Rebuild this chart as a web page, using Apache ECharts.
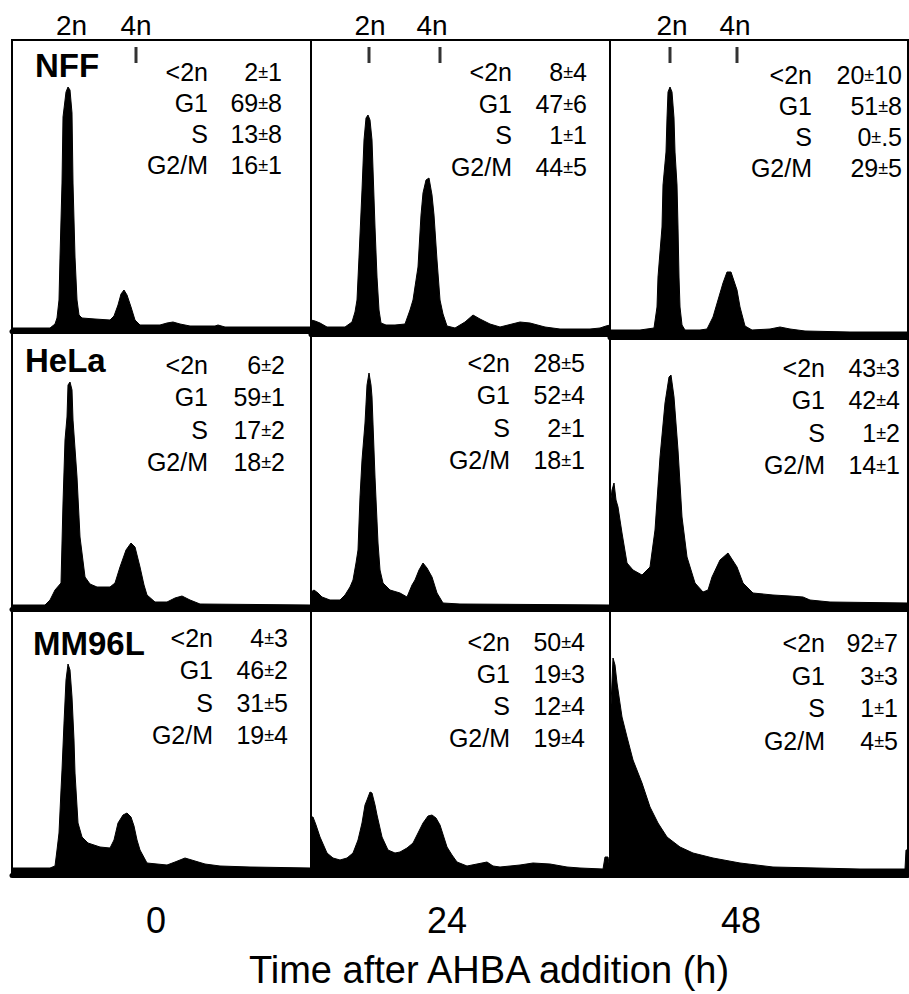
<!DOCTYPE html>
<html>
<head>
<meta charset="utf-8">
<script src="https://cdn.jsdelivr.net/npm/echarts@6/dist/echarts.min.js"></script>
<style>
  html, body { margin: 0; padding: 0; background: #fff; }
  #chart { width: 909px; height: 994px; }
</style>
</head>
<body>
<div id="chart"></div>
<script>
// cell lines (rows) and hours after AHBA (columns)
const CELL_LINES = ['NFF', 'HeLa', 'MM96L']
const HOURS = ['0', '24', '48']
const PHASES = ['<2n', 'G1', 'S', 'G2/M']
const PLOIDY = ['2n', '4n']

// % of cells per phase, mean ± sd
const NFF_STATS = [['2±1', '69±8', '13±8', '16±1'], ['8±4', '47±6', '1±1', '44±5'], ['20±10', '51±8', '0±.5', '29±5']]
const HELA_STATS = [['6±2', '59±1', '17±2', '18±2'], ['28±5', '52±4', '2±1', '18±1'], ['43±3', '42±4', '1±2', '14±1']]
const MM96L_STATS = [['4±3', '46±2', '31±5', '19±4'], ['50±4', '19±3', '12±4', '19±4'], ['92±7', '3±3', '1±1', '4±5']]

// 2n / 4n marker channels per time point (label channel may sit a little off the tick)
const PLOIDY_CHANNELS = [[59, 124], [58, 129], [60, 127]]
const PLOIDY_LABEL_CHANNELS = [[59.5, 124], [59, 121], [62, 125]]

// DNA histograms: [channel, events]
const NFF_0H = [[0,3],[38,3],[43,7],[45,13],[47,31],[48,74],[50,148],[51,214],[54,239],[56,244],[58,241],[60,218],[61,148],[63,74],[65,31],[67,16],[70,13],[83,12],[98,11],[102,15],[106,26],[109,37],[112,41],[115,36],[119,24],[123,11],[128,6],[148,6],[155,8],[161,9],[168,7],[178,5],[203,5],[206,6],[213,4],[299,4]]
const NFF_24H = [[0,14],[4,13],[9,11],[16,7],[34,7],[41,12],[44,22],[46,34],[48,77],[51,144],[53,194],[55,216],[57,219],[59,214],[61,194],[64,107],[66,57],[68,24],[70,11],[75,9],[84,9],[94,10],[99,24],[102,34],[107,67],[110,119],[112,141],[115,154],[118,156],[121,139],[123,119],[126,74],[129,34],[132,20],[136,8],[144,6],[154,12],[162,19],[169,15],[179,10],[189,7],[201,10],[209,12],[219,11],[234,7],[249,5],[279,5],[289,6],[295,8],[299,9]]
const NFF_48H = [[0,7],[30,7],[44,9],[47,30],[48,60],[52,110],[53,152],[56,185],[57,219],[58,245],[60,250],[62,245],[64,219],[65,185],[67,152],[68,110],[69,60],[70,30],[72,12],[75,7],[90,7],[97,8],[103,20],[108,37],[113,54],[117,65],[121,65],[127,47],[130,30],[135,11],[142,7],[160,8],[170,10],[180,8],[195,6],[240,5],[298,5]]
const HELA_0H = [[0,4],[33,4],[38,9],[43,19],[49,26],[51,106],[53,169],[55,192],[56,224],[58,227],[60,219],[61,189],[65,132],[68,72],[73,32],[78,25],[85,22],[98,22],[103,26],[108,42],[114,59],[119,66],[123,62],[128,42],[132,24],[135,14],[143,7],[155,7],[163,11],[170,13],[178,9],[188,5],[299,4]]
const HELA_24H = [[0,17],[3,19],[7,16],[11,12],[19,9],[29,9],[34,14],[39,22],[42,29],[45,46],[47,59],[49,112],[51,149],[54,186],[56,224],[58,236],[60,224],[61,212],[64,132],[67,66],[69,39],[72,26],[79,19],[89,16],[96,12],[101,24],[104,29],[108,39],[112,46],[116,41],[121,32],[126,16],[132,6],[149,5],[299,4]]
const HELA_48H = [[0,102],[2,119],[4,126],[6,109],[8,102],[12,76],[17,46],[23,39],[32,34],[40,42],[45,79],[50,152],[55,206],[59,232],[61,234],[64,212],[68,159],[72,92],[77,52],[85,26],[93,17],[98,19],[102,32],[110,49],[118,56],[127,42],[133,26],[143,16],[163,14],[180,13],[193,12],[200,9],[220,7],[298,6]]
const MM96L_0H = [[0,7],[38,7],[43,9],[45,25],[47,42],[49,85],[50,105],[52,152],[54,195],[56,211],[58,205],[60,178],[62,135],[63,102],[66,52],[70,38],[76,32],[88,28],[98,27],[102,35],[106,52],[111,60],[115,62],[119,58],[122,49],[125,35],[128,25],[135,12],[155,10],[163,13],[173,17],[183,14],[193,11],[208,9],[238,8],[299,7]]
const MM96L_24H = [[0,58],[2,58],[5,50],[9,38],[16,22],[22,17],[29,15],[36,17],[42,22],[47,35],[51,52],[54,70],[56,75],[59,83],[61,82],[64,70],[66,60],[71,38],[77,25],[84,22],[89,23],[96,27],[102,32],[107,42],[112,52],[117,59],[121,60],[125,57],[129,50],[136,28],[141,20],[146,13],[156,9],[166,11],[176,13],[182,9],[189,8],[209,10],[222,12],[239,11],[256,8],[269,7],[292,6],[294,18],[297,18],[299,6]]
const MM96L_48H = [[0,60],[1,170],[3,217],[5,210],[7,192],[12,158],[17,138],[23,115],[32,92],[40,68],[48,52],[57,38],[70,28],[83,22],[103,17],[130,12],[163,8],[207,7],[250,6],[295,6],[296,25],[298,25]]

const HISTOGRAMS = [[NFF_0H, NFF_24H, NFF_48H], [HELA_0H, HELA_24H, HELA_48H], [MM96L_0H, MM96L_24H, MM96L_48H]]
const STATS = [NFF_STATS, HELA_STATS, MM96L_STATS]

// layout (px)
const FONT = '"Liberation Sans", Arial, Helvetica, sans-serif'
const COL_EDGES = [12, 311, 610, 908]
const ROW_TOPS = [[40, 40, 40], [331, 334, 337], [609, 609, 609]]
const ROW_BOTTOMS = [[331, 334, 337], [609, 609, 609], [875, 875, 875]]
// [label right, value right, first line y, line step]
const STAT_POS = [
  [[208, 282, 72, 31], [512, 587, 72, 31.5], [812, 902, 75, 31]],
  [[208, 285, 365, 32.3], [510, 585, 363, 32.3], [825, 900, 368, 32.3]],
  [[213, 288, 638, 32.3], [510, 585, 642, 32], [825, 898, 643, 32.6]]
]
const NAME_POS = [[35, 65], [25, 360], [33, 643]]
const HOUR_POS = [156, 447, 741]

const chart = echarts.init(document.getElementById('chart'), null, { renderer: 'svg' })

const grids = [], xAxes = [], yAxes = [], series = [], graphics = []

HISTOGRAMS.forEach((row, r) => {
  row.forEach((hist, c) => {
    const i = r * 3 + c
    const left = COL_EDGES[c]
    const width = COL_EDGES[c + 1] - left
    const top = ROW_TOPS[r][c]
    const height = ROW_BOTTOMS[r][c] - top
    grids.push({ left, top, width, height, show: true, borderColor: '#000', borderWidth: 2, backgroundColor: 'transparent' })
    xAxes.push({
      type: 'value', gridIndex: i, min: 0, max: width,
      axisLine: { show: true, onZero: false, lineStyle: { color: '#000', width: 5 } },
      axisTick: { show: false }, axisLabel: { show: false }, splitLine: { show: false }
    })
    yAxes.push({ type: 'value', gridIndex: i, min: 0, max: height, show: false })
    series.push({
      type: 'line', xAxisIndex: i, yAxisIndex: i, data: hist,
      symbol: 'none', silent: true, z: 3,
      lineStyle: { color: '#000', width: 1 },
      areaStyle: { color: '#000', opacity: 1 }
    })
  })
})

// 2n / 4n tick marks on the top row
PLOIDY_CHANNELS.forEach((chans, c) => {
  const h = ROW_BOTTOMS[0][c] - ROW_TOPS[0][c]
  series.push({
    type: 'scatter', xAxisIndex: c, yAxisIndex: c, silent: true, z: 4,
    symbol: 'rect',
    itemStyle: { color: '#000' },
    data: chans.map((ch, k) => ({
      value: [ch, h - 15],
      symbolSize: (c === 0 && k === 0) ? 0 : [3, 16]
    }))
  })
})

const fmtVal = (s) => s.split('±').map(p => `{v|${p}}`).join('{pm|±}')

STATS.forEach((row, r) => {
  row.forEach((vals, c) => {
    const [lx, vx, y0, step] = STAT_POS[r][c]
    vals.forEach((v, k) => {
      const y = y0 + k * step
      graphics.push({
        type: 'text', x: lx, y, z: 10,
        style: { text: PHASES[k], align: 'right', verticalAlign: 'middle', fill: '#000', font: `25px ${FONT}` }
      })
      graphics.push({
        type: 'text', x: vx, y, z: 10,
        style: {
          text: fmtVal(v), align: 'right', verticalAlign: 'middle', fill: '#000', font: `25px ${FONT}`,
          rich: {
            v: { fontSize: 25, fontFamily: FONT, fill: '#000' },
            pm: { fontSize: 18, fontFamily: FONT, fill: '#000' }
          }
        }
      })
    })
  })
})

CELL_LINES.forEach((name, r) => {
  graphics.push({
    type: 'text', x: NAME_POS[r][0], y: NAME_POS[r][1], z: 10,
    style: { text: name, align: 'left', verticalAlign: 'middle', fill: '#000', font: `bold 33px ${FONT}` }
  })
})

HOURS.forEach((h, c) => {
  graphics.push({
    type: 'text', x: HOUR_POS[c], y: 920, z: 10,
    style: { text: h, align: 'center', verticalAlign: 'middle', fill: '#000', font: `36px ${FONT}` }
  })
})

graphics.push({
  type: 'text', x: 489, y: 970, z: 10,
  style: { text: 'Time after AHBA addition (h)', align: 'center', verticalAlign: 'middle', fill: '#000', font: `38px ${FONT}` }
})

chart.setOption({
  animation: false,
  backgroundColor: '#fff',
  grid: grids,
  xAxis: xAxes,
  yAxis: yAxes,
  series
})

// 2n / 4n labels above the frame, placed through each panel's x scale
PLOIDY_LABEL_CHANNELS.forEach((chans, c) => {
  chans.forEach((ch, k) => {
    const px = chart.convertToPixel({ xAxisIndex: c }, ch)
    graphics.push({
      type: 'text', x: px, y: 25, z: 10,
      style: { text: PLOIDY[k], align: 'center', verticalAlign: 'middle', fill: '#000', font: `28px ${FONT}` }
    })
  })
})

chart.setOption({ graphic: graphics })
</script>
</body>
</html>
